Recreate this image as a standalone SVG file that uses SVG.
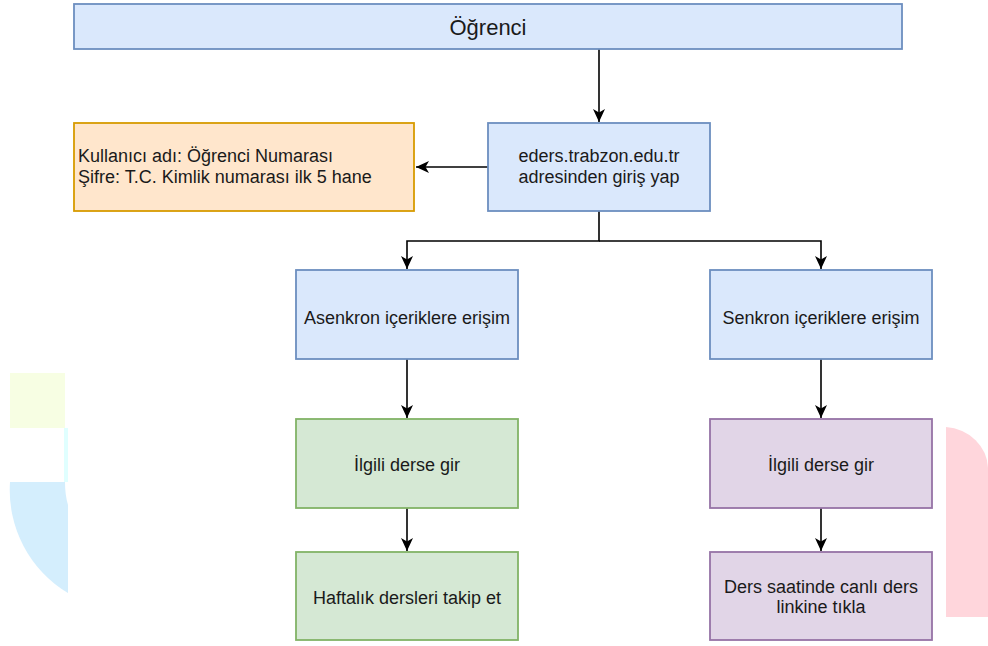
<svg xmlns="http://www.w3.org/2000/svg" width="988" height="646" viewBox="0 0 988 646">
<defs>
<marker id="arr" markerUnits="userSpaceOnUse" markerWidth="14" markerHeight="12" viewBox="0 0 14 12" refX="13" refY="6" orient="auto">
<path d="M0,0 L13,6 L0,12 L3.5,6 Z" fill="#000"/>
</marker>
<style>
.t{font-family:"Liberation Sans",Arial,sans-serif;font-size:18px;fill:#1a1a1a}
.c{text-anchor:middle}
.blue{fill:#dae8fc;stroke:#6c8ebf;stroke-width:1.8}
.org{fill:#ffe6cc;stroke:#d79b00;stroke-width:1.8}
.grn{fill:#d5e8d4;stroke:#82b366;stroke-width:1.8}
.pur{fill:#e1d5e7;stroke:#9673a6;stroke-width:1.8}
.ln{fill:none;stroke:#000;stroke-width:1.6}
</style>
</defs>
<g id="background">
<rect x="10" y="373" width="55" height="55" fill="#f7fee3"/>
<rect x="64" y="428" width="4" height="54" fill="#e0ffff"/>
<path d="M10,482 H65 Q65,495 68,505 V593 A120 120 0 0 1 10,482 Z" fill="#d4eefd"/>
<path d="M946,617 V427 A46 42 0 0 1 988,468 V617 Z" fill="#ffd6dc"/>
</g>
<g id="connectors">
<line class="ln" x1="599" y1="49" x2="599" y2="122" marker-end="url(#arr)"/>
<line class="ln" x1="488" y1="167" x2="416" y2="167" marker-end="url(#arr)"/>
<path class="ln" d="M599,211 V241 H407 V269" marker-end="url(#arr)"/>
<path class="ln" d="M599,241 H821 V269" marker-end="url(#arr)"/>
<line class="ln" x1="407" y1="359" x2="407" y2="418" marker-end="url(#arr)"/>
<line class="ln" x1="821" y1="359" x2="821" y2="418" marker-end="url(#arr)"/>
<line class="ln" x1="407" y1="508" x2="407" y2="551" marker-end="url(#arr)"/>
<line class="ln" x1="821" y1="508" x2="821" y2="551" marker-end="url(#arr)"/>
</g>
<g id="ogrenci">
<rect class="blue" x="74" y="4" width="828" height="45"/>
<text class="t c" x="488" y="35" style="font-size:22px">Öğrenci</text>
</g>
<g id="giris">
<rect class="blue" x="488" y="123" width="222" height="88"/>
<text class="t c" x="599" y="162">eders.trabzon.edu.tr</text>
<text class="t c" x="599" y="183">adresinden giriş yap</text>
</g>
<g id="bilgi">
<rect class="org" x="74" y="123" width="340" height="88"/>
<text class="t" x="78" y="162">Kullanıcı adı: Öğrenci Numarası</text>
<text class="t" x="78" y="183">Şifre: T.C. Kimlik numarası ilk 5 hane</text>
</g>
<g id="asenkron">
<rect class="blue" x="296" y="270" width="222" height="89"/>
<text class="t c" x="407" y="324">Asenkron içeriklere erişim</text>
</g>
<g id="senkron">
<rect class="blue" x="710" y="270" width="222" height="89"/>
<text class="t c" x="821" y="324">Senkron içeriklere erişim</text>
</g>
<g id="asenkron-ders">
<rect class="grn" x="296" y="419" width="222" height="89"/>
<text class="t c" x="407" y="471">İlgili derse gir</text>
</g>
<g id="haftalik">
<rect class="grn" x="296" y="552" width="222" height="88"/>
<text class="t c" x="407" y="604">Haftalık dersleri takip et</text>
</g>
<g id="senkron-ders">
<rect class="pur" x="710" y="419" width="222" height="89"/>
<text class="t c" x="821" y="471">İlgili derse gir</text>
</g>
<g id="canli">
<rect class="pur" x="710" y="552" width="222" height="88"/>
<text class="t c" x="821" y="593">Ders saatinde canlı ders</text>
<text class="t c" x="821" y="613">linkine tıkla</text>
</g>
</svg>
